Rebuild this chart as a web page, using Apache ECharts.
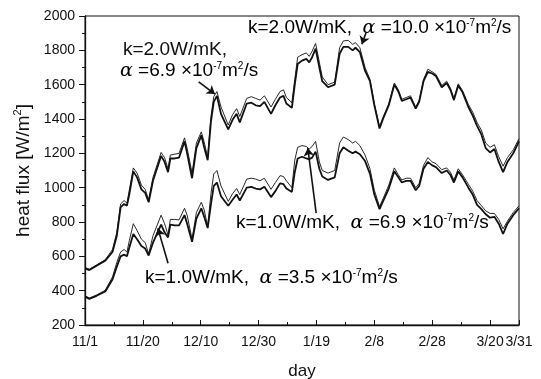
<!DOCTYPE html>
<html>
<head>
<meta charset="utf-8">
<script src="https://cdn.jsdelivr.net/npm/echarts@6/dist/echarts.min.js"></script>
<style>
  html, body { margin: 0; padding: 0; background: #fff; }
  #chart { width: 541px; height: 379px; }
</style>
</head>
<body>
<div id="chart"></div>
<script>
// day 0 = 11/1
const days = [0,1.5,4,7,9.5,11,12.3,13.5,14.5,15.3,16.7,18,19.5,20.8,22,23.5,26.3,27.5,28.7,29.5,
  31,32.5,34.4,35.3,37,38.5,40.2,41.2,42.4,43.5,44.5,45.6,47,49.5,51,52.4,53.5,55.9,57.5,59,
  60.5,62,64.3,65.8,67.4,68.6,69.6,71.5,72.5,73.5,75,76.5,77.5,78.5,79.7,81,82,84,86.3,88,
  89.3,91,92.5,93.5,95,96.8,98.5,100,101.8,103,105,106.9,108.3,109.5,111,112.5,114.3,115.5,117,118.5,
  120,121.3,123.3,125,126.3,127.5,129,130.5,132.5,134,135.5,137,138.5,140,141.5,143,144.5,146,148,150]

// k=2.0W/mK, alpha=6.9e-7
const k2a69 = [530,520,545,575,625, 720,885,905,895,960, 1095,1060,990,970,915, 1040,1185,1150,1090,1170,
  1170,1175,1270,1200,1055, 1230,1305,1235,1160,1380, 1500,1535,1430,1340,1395, 1430,1380,1490,1495,1480,
  1475,1500,1430,1480,1525, 1535,1490,1465,1600,1720, 1740,1750,1730,1760,1810, 1700,1620,1585,1600,1780,
  1820,1820,1800,1815,1790, 1680,1620,1480,1345,1400, 1480,1600,1560,1505,1515, 1525,1460,1500,1620,1675,
  1665,1650,1585,1610,1570, 1510,1595,1555,1470,1420, 1360,1310,1230,1205,1225, 1150,1090,1150,1200,1270]
// k=2.0W/mK, alpha=10.0e-7
const k2a100 = [535,525,550,580,640, 740,905,925,910,985, 1115,1085,1015,990,930, 1060,1205,1175,1110,1190,
  1195,1200,1290,1230,1085, 1260,1325,1265,1175,1410, 1530,1560,1470,1365,1425, 1460,1415,1520,1530,1520,
  1510,1535,1470,1515,1560, 1570,1525,1495,1630,1760, 1775,1785,1765,1795,1840, 1730,1645,1600,1615,1815,
  1855,1858,1835,1845,1815, 1700,1630,1490,1355,1410, 1490,1610,1570,1515,1525, 1535,1470,1510,1630,1690,
  1675,1660,1595,1620,1580, 1520,1605,1565,1485,1440, 1380,1335,1260,1235,1250, 1180,1125,1175,1220,1285]
// k=1.0W/mK, alpha=3.5e-7
const k1a35 = [365,352,370,395,465, 540,600,610,600,650, 730,700,660,645,605, 680,785,740,710,785,
  780,780,840,790,685, 820,880,830,765,900, 1010,1030,950,895,930, 960,925,1000,1005,995,
  990,1005,945,980,1025, 1020,995,975,1090,1170, 1180,1170,1165,1175,1210, 1110,1065,1045,1060,1200,
  1235,1215,1200,1210,1195, 1155,1080,960,875,920, 995,1095,1060,1030,1040, 1040,985,1010,1110,1150,
  1130,1120,1085,1100,1075, 1030,1095,1060,1000,960, 900,875,845,825,830, 790,730,790,840,880]
// k=1.0W/mK, alpha=6.9e-7
const k1a69 = [370,357,375,402,480, 565,625,640,625,690, 790,750,700,680,615, 720,840,790,725,815,
  815,812,880,840,700, 855,915,870,775,960, 1080,1100,1010,920,965, 995,960,1050,1055,1050,
  1040,1055,990,1030,1070, 1065,1040,1000,1160,1235, 1245,1240,1225,1240,1270, 1150,1100,1085,1100,1260,
  1295,1280,1260,1270,1245, 1190,1110,985,890,935, 1015,1115,1075,1045,1055, 1055,1000,1025,1130,1175,
  1150,1140,1105,1115,1090, 1045,1110,1075,1020,980, 925,895,865,850,850, 815,760,805,855,895]

const xTickDays = [0, 20, 40, 60, 80, 100, 120, 140, 150]
const xTickLabels = ['11/1', '11/20', '12/10', '12/30', '1/19', '2/8', '2/28', '3/20', '3/31']

const pts = vals => days.map((d, i) => [d, vals[i]])
const FONT = 'Liberation Sans, Arial, sans-serif'
const INK = '#111'

const rich = {
    t: { fontSize: 19, fontFamily: FONT, color: INK },
    a: { fontSize: 19, fontFamily: 'DejaVu Serif', fontStyle: 'italic', color: INK },
    s: { fontSize: 10, fontFamily: FONT, color: INK, padding: [0, 0, 10, 0] }
}
const note = (x, y, k, a) => ({
    type: 'text', x: x, y: y,
    style: {
        text: (k ? '{t|' + k + '}' : '') + '{a|α}{t| =' + a + ' ×10}{s|-7}{t|m}{s|2}{t|/s}',
        rich: rich, verticalAlign: 'middle'
    }
})

const chart = echarts.init(document.getElementById('chart'))
chart.setOption({
    animation: false,
    backgroundColor: '#fff',
    grid: {
        left: 85, right: 22, top: 16, bottom: 54, outerBoundsMode: 'none',
        show: true, borderColor: INK, borderWidth: 1
    },
    xAxis: {
        type: 'value', min: 0, max: 150, interval: 20,
        axisLine: { lineStyle: { color: INK, width: 1.3 } },
        axisTick: { inside: true, length: 5, lineStyle: { color: INK } },
        minorTick: { show: true, splitNumber: 2, length: 3, lineStyle: { color: INK } },
        splitLine: { show: false },
        axisLabel: {
            color: INK, fontSize: 14, fontFamily: FONT, margin: 10, showMaxLabel: true,
            formatter: v => { const i = xTickDays.indexOf(v); return i >= 0 ? xTickLabels[i] : '' }
        },
        name: 'day', nameLocation: 'middle', nameGap: 38,
        nameTextStyle: { color: INK, fontSize: 17, fontFamily: FONT }
    },
    yAxis: {
        type: 'value', min: 200, max: 2000, interval: 200,
        axisLine: { show: true, lineStyle: { color: INK, width: 1.3 } },
        axisTick: { show: true, length: 6, lineStyle: { color: INK } },
        minorTick: { show: true, splitNumber: 2, length: 3, lineStyle: { color: INK } },
        splitLine: { show: false },
        axisLabel: { color: INK, fontSize: 14, fontFamily: FONT, margin: 10, formatter: v => String(v) },
        name: 'heat flux [W/m{s|2}]', nameLocation: 'middle', nameGap: 51, nameRotate: 90,
        nameTextStyle: {
            color: INK, fontSize: 19, fontFamily: FONT,
            rich: { s: { fontSize: 11, fontFamily: FONT, color: INK, padding: [0, 0, 10, 0] } }
        }
    },
    series: [
        {
            type: 'line', data: pts(k2a69), showSymbol: false,
            lineStyle: { color: INK, width: 1.8 },
            markLine: {
                silent: true, symbol: ['none', 'arrow'], symbolSize: 8,
                lineStyle: { color: INK, width: 1.6, type: 'solid' },
                label: { show: false },
                data: [
                    [{ coord: [39.3, 1616] }, { coord: [44.9, 1545] }],
                    [{ coord: [97.1, 1901] }, { coord: [95.7, 1835] }],
                    [{ coord: [79.9, 852] }, { coord: [77, 1231] }],
                    [{ coord: [28.7, 560] }, { coord: [25.2, 763] }]
                ]
            }
        },
        { type: 'line', data: pts(k2a100), showSymbol: false, lineStyle: { color: INK, width: 0.9 } },
        { type: 'line', data: pts(k1a35), showSymbol: false, lineStyle: { color: INK, width: 1.8 } },
        { type: 'line', data: pts(k1a69), showSymbol: false, lineStyle: { color: INK, width: 0.9 } }
    ],
    graphic: [
        note(248, 28, 'k=2.0W/mK,  ', '10.0'),
        { type: 'text', x: 123, y: 50, style: { text: 'k=2.0W/mK,', font: '19px ' + FONT, fill: INK, verticalAlign: 'middle' } },
        note(120, 71, '', '6.9'),
        note(236, 223, 'k=1.0W/mK,  ', '6.9'),
        note(145, 278, 'k=1.0W/mK,  ', '3.5')
    ]
})
</script>
</body>
</html>
